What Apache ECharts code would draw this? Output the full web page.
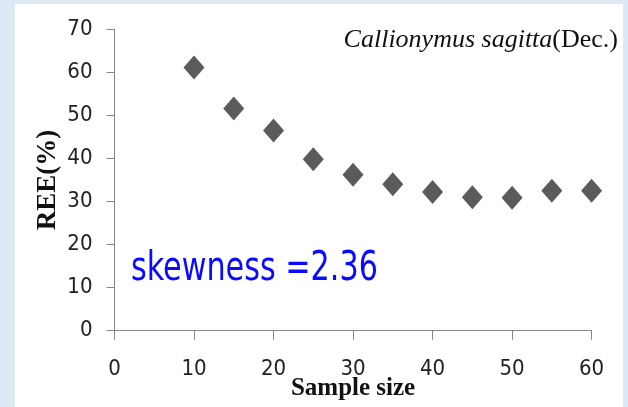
<!DOCTYPE html>
<html>
<head>
<meta charset="utf-8">
<script src="https://cdn.jsdelivr.net/npm/echarts@6/dist/echarts.min.js"></script>
<style>html,body{margin:0;padding:0;background:#dee9f5;}#c{width:628px;height:407px;}</style>
</head>
<body>
<div id="c"></div>
<script>
const sampleSizes = [10, 15, 20, 25, 30, 35, 40, 45, 50, 55, 60];
const reeValues = [61.1, 51.6, 46.5, 39.8, 36.2, 34.0, 32.2, 31.0, 30.9, 32.5, 32.5];
const xTicks = [0, 10, 20, 30, 40, 50, 60];
const yTicks = [0, 10, 20, 30, 40, 50, 60, 70];

const narrow = "'Liberation Sans Narrow', 'DejaVu Sans Condensed', sans-serif";
const serif = "'Liberation Serif', 'Times New Roman', serif";

const chart = echarts.init(document.getElementById('c'), null, {renderer: 'canvas'});
chart.setOption({
  backgroundColor: '#dee9f5',
  animation: false,
  graphic: [
    {type: 'rect', z: -100, silent: true, shape: {x: 15, y: 4, width: 608, height: 410}, style: {fill: '#ffffff'}},
    {type: 'text', z: 100, style: {
      x: 618, y: 40, align: 'right', verticalAlign: 'middle',
      text: '{i|Callionymus sagitta}{n|(Dec.)}',
      rich: {
        i: {fontFamily: serif, fontStyle: 'italic', fontSize: 26, fill: '#111'},
        n: {fontFamily: serif, fontSize: 26, fill: '#111'}
      }
    }},
    {type: 'text', z: 100, x: 131, y: 270, scaleX: 0.84, style: {
      x: 0, y: 0, align: 'left', verticalAlign: 'middle',
      text: 'skewness =2.36', fontFamily: narrow, fontSize: 40, fill: '#0a0aff'
    }}
  ],
  grid: {left: 114.5, right: 36.4, top: 29.3, bottom: 76.3, containLabel: false, outerBoundsMode: 'none'},
  xAxis: {
    type: 'value', min: xTicks[0], max: xTicks[xTicks.length - 1], interval: 10,
    name: 'Sample size', nameLocation: 'middle', nameGap: 45, nameMoveOverlap: false,
    nameTextStyle: {fontFamily: serif, fontWeight: 'bold', fontSize: 25, color: '#111'},
    axisLine: {show: true, onZero: false, lineStyle: {color: '#868686', width: 1}},
    axisTick: {show: true, inside: false, length: 9, lineStyle: {color: '#868686'}},
    axisLabel: {margin: 28, fontFamily: narrow, fontSize: 22, color: '#222'},
    splitLine: {show: false}
  },
  yAxis: {
    type: 'value', min: yTicks[0], max: yTicks[yTicks.length - 1], interval: 10,
    name: 'REE(%)', nameLocation: 'middle', nameGap: 53, nameMoveOverlap: false,
    nameTextStyle: {fontFamily: serif, fontWeight: 'bold', fontSize: 27, color: '#111'},
    axisLine: {show: true, onZero: false, lineStyle: {color: '#868686', width: 1}},
    axisTick: {show: true, inside: false, length: 8, lineStyle: {color: '#868686'}},
    axisLabel: {margin: 22, fontFamily: narrow, fontSize: 22, color: '#222'},
    splitLine: {show: false}
  },
  series: [{
    type: 'scatter',
    data: sampleSizes.map((s, i) => [s, reeValues[i]]),
    symbol: 'diamond',
    symbolSize: [21, 24],
    itemStyle: {color: '#5b5b5b', opacity: 1}
  }]
});
</script>
</body>
</html>
